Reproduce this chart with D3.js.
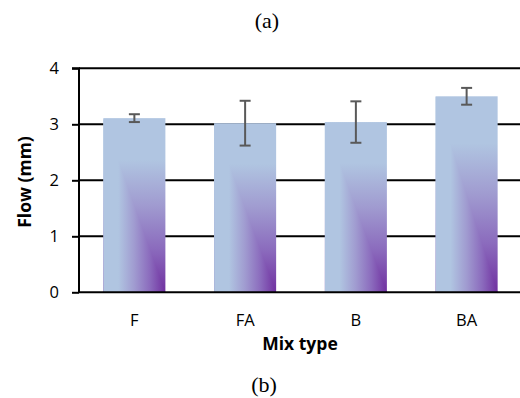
<!DOCTYPE html>
<html><head><meta charset="utf-8">
<script src="https://cdn.jsdelivr.net/npm/d3@7"></script>
<style>body{margin:0;background:#fff}svg{display:block}</style>
</head><body>
<script>
const categories = ["F", "FA", "B", "BA"];
const values = [3.11, 3.02, 3.04, 3.50];
const errors = [0.07, 0.40, 0.37, 0.15];
const yTicks = [0, 1, 2, 3, 4];

const W = 520, H = 398;
const m = {left: 79, right: -2, top: 68.3, bottom: 398 - 292.3};
const svg = d3.select("body").append("svg").attr("width", W).attr("height", H);

const defs = svg.append("defs");
const stops = [[0, "#b0c5e1"], [0.24, "#b0c5e1"], [0.5, "#a09bd0"], [0.75, "#8b6bbd"], [1, "#7030a0"]];
const gH = defs.append("linearGradient").attr("id", "gh").attr("x1", 0).attr("y1", 0).attr("x2", 1).attr("y2", 0);
const gV = defs.append("linearGradient").attr("id", "gv").attr("x1", 0).attr("y1", 0).attr("x2", 0).attr("y2", 1);
[gH, gV].forEach(g => stops.forEach(s => g.append("stop").attr("offset", s[0]).attr("stop-color", s[1])));

const x = d3.scaleBand().domain(categories).range([m.left, W - m.right]).paddingInner(0.44).paddingOuter(0.22);
const y = d3.scaleLinear().domain([0, 4]).range([H - m.bottom, m.top]);

// gridlines
svg.append("g").selectAll("line").data(yTicks.slice(1)).join("line")
  .attr("x1", m.left).attr("x2", W).attr("y1", d => y(d)).attr("y2", d => y(d))
  .attr("stroke", "#000").attr("stroke-width", 2);

// bars: full rect with vertical gradient, lower-left triangle with horizontal gradient
const bars = svg.append("g").selectAll("g").data(categories).join("g");
bars.append("rect").attr("fill", "url(#gv)")
  .attr("x", c => x(c)).attr("width", x.bandwidth())
  .attr("y", (c, i) => y(values[i])).attr("height", (c, i) => y(0) - y(values[i]));
bars.append("path").attr("fill", "url(#gh)").attr("d", (c, i) => {
  const x0 = x(c), x1 = x(c) + x.bandwidth(), y0 = y(values[i]), y1 = y(0);
  return `M${x0},${y0}L${x1},${y1}L${x0},${y1}Z`;
});

// axes
const yAxis = svg.append("g").attr("transform", `translate(${m.left},0)`)
  .call(d3.axisLeft(y).tickValues(yTicks).tickSize(7).tickPadding(13).tickFormat(d3.format("d")));
yAxis.select(".domain").attr("stroke", "#000").attr("stroke-width", 2).attr("d", `M-7,${y(4)}H0V${y(0)}`);
yAxis.selectAll(".tick line").attr("stroke", "#000").attr("stroke-width", 2);
yAxis.selectAll("text").attr("font-family", "Open Sans, sans-serif").attr("font-size", 16.5).attr("fill", "#000");

const xAxis = svg.append("g").attr("transform", `translate(0,${y(0)})`)
  .call(d3.axisBottom(x).tickSize(0).tickPadding(22));
xAxis.select(".domain").attr("stroke", "#000").attr("stroke-width", 2).attr("d", `M${m.left},0H${W}`);
xAxis.selectAll("text").attr("font-family", "Open Sans, sans-serif").attr("font-size", 16.5).attr("fill", "#000");

// error bars
const eb = svg.append("g").attr("stroke", "#595959").attr("stroke-width", 2);
categories.forEach((c, i) => {
  const cx = x(c) + x.bandwidth() / 2, t = y(values[i] + errors[i]), b = y(values[i] - errors[i]);
  eb.append("line").attr("x1", cx).attr("x2", cx).attr("y1", t).attr("y2", b);
  eb.append("line").attr("x1", cx - 5.5).attr("x2", cx + 5.5).attr("y1", t).attr("y2", t);
  eb.append("line").attr("x1", cx - 5.5).attr("x2", cx + 5.5).attr("y1", b).attr("y2", b);
});

// titles
svg.append("text").attr("x", 24).attr("y", 182).attr("transform", "rotate(-90,24,182)")
  .attr("text-anchor", "middle").attr("dominant-baseline", "central")
  .attr("font-family", "Open Sans, sans-serif").attr("font-weight", "bold").attr("font-size", 17.5).text("Flow (mm)");
svg.append("text").attr("x", 300).attr("y", 350).attr("text-anchor", "middle")
  .attr("font-family", "Open Sans, sans-serif").attr("font-weight", "bold").attr("font-size", 17.5).text("Mix type");
svg.append("text").attr("x", 267).attr("y", 28).attr("text-anchor", "middle")
  .attr("font-family", "Liberation Serif, serif").attr("font-size", 22).text("(a)");
svg.append("text").attr("x", 264).attr("y", 392).attr("text-anchor", "middle")
  .attr("font-family", "Liberation Serif, serif").attr("font-size", 22).text("(b)");
</script>
</body></html>
